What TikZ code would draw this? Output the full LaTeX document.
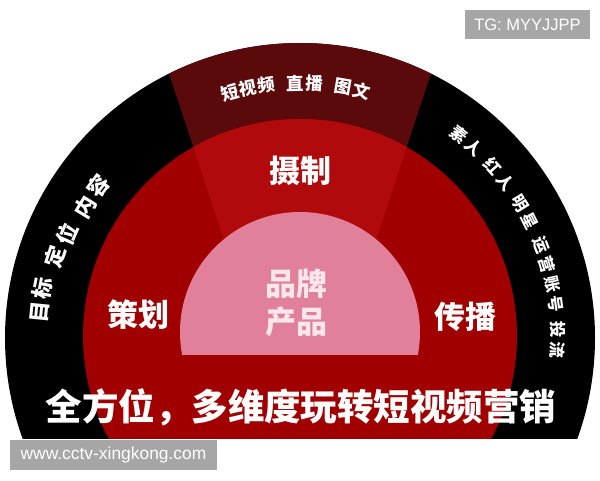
\documentclass[tikz,border=0pt]{standalone}
\usepackage{fontspec}
\setmainfont{Liberation Sans}
\newfontfamily\cjk{Noto Sans CJK SC}
\usetikzlibrary{calc}
\definecolor{ringblack}{HTML}{000000}
\definecolor{wedgedark}{HTML}{5B0A0C}
\definecolor{redmain}{HTML}{A10000}
\definecolor{redlight}{HTML}{B10A0D}
\definecolor{pinkcore}{HTML}{E0809A}
\definecolor{boxgrey}{HTML}{A6A6A6}
\definecolor{coretext}{HTML}{FBE6EB}
\begin{document}
\begin{tikzpicture}[x=1pt,y=1pt,
  toparc/.style={text=white, inner sep=0pt, font=\cjk\bfseries\fontsize{17.5}{17.5}\selectfont},
  leftarc/.style={text=white, inner sep=0pt, font=\cjk\bfseries\fontsize{21.5}{21.5}\selectfont},
  rightarc/.style={text=white, inner sep=0pt, font=\cjk\bfseries\fontsize{16.5}{16.5}\selectfont},
  biglabel/.style={text=white, inner sep=0pt, font=\cjk\bfseries\fontsize{31}{31}\selectfont},
  corelabel/.style={text=coretext, inner sep=0pt, font=\cjk\bfseries\fontsize{31}{31}\selectfont},
  slogan/.style={text=white, inner sep=0pt, font=\cjk\bfseries\fontsize{36.5}{36.5}\selectfont},
  greybox/.style={fill=boxgrey, text=white, inner sep=0pt}]
\useasboundingbox (0,0) rectangle (600,-480);
\fill[white] (0,0) rectangle (600,-480);
\coordinate (C) at (300,-338);
\coordinate (CR) at (300,-336);
\coordinate (CP) at (300,-332);
\coordinate (A) at (300,-470);
\coordinate (WL) at (84,184);
\coordinate (WR) at (516,184);
\begin{scope}
  \clip (0,-438) rectangle (600,0);
  \fill[ringblack] (C) circle (295);
  \begin{scope}
    \clip (C) circle (295);
    \fill[wedgedark] (A) -- (WL) -- (WR) -- cycle;
  \end{scope}
  \fill[redmain] (CR) circle (217);
  \begin{scope}
    \clip (CR) circle (217);
    \clip (0,-350) rectangle (600,0);
    \fill[redlight] (A) -- (WL) -- (WR) -- cycle;
  \end{scope}
\end{scope}
\begin{scope}
  \clip (0,-354) rectangle (600,0);
  \fill[pinkcore] (CP) circle (120);
\end{scope}
% top arc text
\foreach \ch/\ang [count=\i] in {短/106, 视/101.8, 频/97.6, 直/91, 播/86.8, 图/80.2, 文/76}
  \node[toparc, rotate=\ang-90] (top\i) at ($(C)+(\ang:255)$) {\ch};
% left arc text
\foreach \ch/\ang/\r [count=\i] in {目/174.3/261, 标/169/262, 定/161.6/258, 位/156/255, 内/148.6/252, 容/143/252}
  \node[leftarc, rotate=\ang-90] (left\i) at ($(C)+(\ang:\r)$) {\ch};
% right arc text
\foreach \ch/\ang [count=\i] in {素/52, 人/47.5, 红/41.7, 人/37.2, 明/31.4, 星/26.9, 运/21.1, 营/16.6, 账/12.1, 号/7.6, 投/1.8, 流/-2.7}
  \node[rightarc, rotate=\ang-90] (right\i) at ($(C)+(\ang:258)$) {\ch};
\node[biglabel] (shezhi) at (300,-171) {摄制};
\node[biglabel] (cehua) at (138,-315) {策划};
\node[biglabel] (chuanbo) at (465,-317) {传播};
\node[corelabel] (pinpai) at (296,-284) {品牌};
\node[corelabel] (chanpin) at (296,-322) {产品};
\node[slogan] (slogantext) at (301,-407) {全方位，多维度玩转短视频营销};
\node[greybox, minimum width=125, minimum height=29, font=\fontsize{16.5}{16.5}\selectfont] (tg) at (527.5,-24.5) {TG: MYYJJPP};
\node[greybox, minimum width=207, minimum height=30, font=\fontsize{17.4}{17.4}\selectfont] (url) at (113.5,-455) {www.cctv-xingkong.com};
\end{tikzpicture}
\end{document}
